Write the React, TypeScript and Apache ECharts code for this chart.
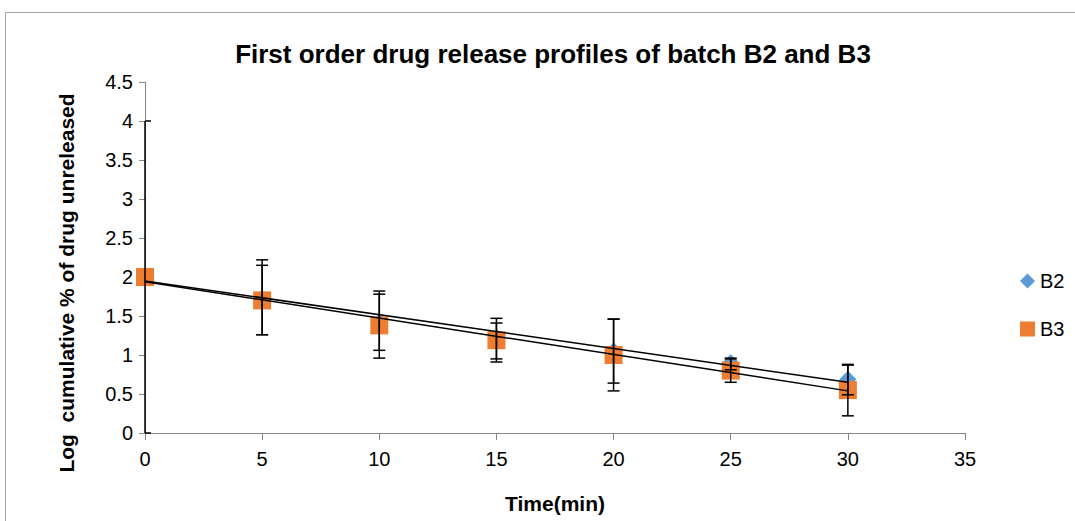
import React, { useEffect, useRef } from "react";
import * as echarts from "echarts";

const timeValues = [0, 5, 10, 15, 20, 25, 30];
const b2Values = [2.0, 1.72, 1.42, 1.22, 1.05, 0.9, 0.69];
const b3Values = [2.0, 1.7, 1.38, 1.19, 1.0, 0.8, 0.55];
const b2ErrLow = [0, 1.26, 1.06, 0.95, 0.64, 0.81, 0.49];
const b2ErrHigh = [4.0, 2.22, 1.82, 1.47, 1.46, 0.95, 0.87];
const b3ErrLow = [2.0, 1.26, 0.96, 0.91, 0.54, 0.65, 0.22];
const b3ErrHigh = [2.0, 2.15, 1.78, 1.41, 1.46, 0.96, 0.88];
const trendX = [0, 30];
const trendB2 = [1.95, 0.65];
const trendB3 = [1.94, 0.54];
const yTicks = ["0", "0.5", "1", "1.5", "2", "2.5", "3", "3.5", "4", "4.5"];
const yAxisTitle = "Log  cumulative % of drug unreleased";

const FONT = "'Liberation Sans', Arial, sans-serif";

function errorSeries(low: number[], high: number[]) {
  const data = timeValues.map((t, i) => [t, low[i], high[i]]);
  return {
    type: "custom",
    z: 5,
    silent: true,
    clip: false,
    data,
    encode: { x: 0, y: [1, 2] },
    renderItem: (params: any, api: any) => {
      const x = api.value(0);
      const lo = api.value(1);
      const hi = api.value(2);
      if (lo === hi) return null;
      const p1 = api.coord([x, lo]);
      const p2 = api.coord([x, hi]);
      const w = 6;
      const left = params.coordSys.x;
      const style = { stroke: "#000", lineWidth: 1.5 };
      const cl = Math.max(left, p1[0] - w);
      return {
        type: "group",
        children: [
          { type: "line", shape: { x1: p1[0], y1: p1[1], x2: p2[0], y2: p2[1] }, style },
          { type: "line", shape: { x1: cl, y1: p1[1], x2: p1[0] + w, y2: p1[1] }, style },
          { type: "line", shape: { x1: cl, y1: p2[1], x2: p2[0] + w, y2: p2[1] }, style },
        ],
      };
    },
  };
}

export default function App() {
  const ref = useRef<HTMLDivElement>(null);
  useEffect(() => {
    if (!ref.current) return;
    const chart = echarts.init(ref.current, null, { renderer: "svg" });
    chart.setOption({
      animation: false,
      backgroundColor: "#fff",
      title: {
        text: "First order drug release profiles of batch B2 and B3",
        left: 548,
        textAlign: "center",
        top: 36,
        textStyle: { fontFamily: FONT, fontSize: 26, fontWeight: "bold", color: "#000" },
      },
      graphic: [
        {
          type: "rect",
          shape: { x: 5.5, y: 12.5, width: 1100, height: 600 },
          style: { fill: "none", stroke: "#a6a6a6", lineWidth: 1 },
          z: -1,
        },
        {
          type: "text",
          x: 66,
          y: 283,
          rotation: Math.PI / 2,
          style: {
            text: yAxisTitle,
            fontFamily: FONT,
            fontSize: 21,
            fontWeight: "bold",
            fill: "#000",
            align: "center",
            verticalAlign: "middle",
          },
        },
      ],
      legend: {
        orient: "vertical",
        left: 1015,
        top: 266,
        itemWidth: 15,
        itemHeight: 15,
        itemGap: 28,
        textStyle: { fontFamily: FONT, fontSize: 20, color: "#000" },
        data: [
          { name: "B2", icon: "diamond" },
          { name: "B3", icon: "rect" },
        ],
      },
      grid: { left: 145, right: 110, top: 82, bottom: 88 },
      xAxis: {
        type: "value",
        min: 0,
        max: 35,
        interval: 5,
        name: "Time(min)",
        nameLocation: "middle",
        nameGap: 60,
        nameTextStyle: { fontFamily: FONT, fontSize: 21, fontWeight: "bold", color: "#000" },
        axisLine: { lineStyle: { color: "#868686", width: 1 } },
        axisTick: { show: true, length: 7, lineStyle: { color: "#868686" } },
        axisLabel: { fontFamily: FONT, fontSize: 20, color: "#000", margin: 16 },
        splitLine: { show: false },
      },
      yAxis: {
        type: "value",
        min: 0,
        max: 4.5,
        interval: 0.5,
        axisLine: { show: true, lineStyle: { color: "#868686", width: 1 } },
        axisTick: { show: true, length: 6, lineStyle: { color: "#868686" } },
        axisLabel: {
          fontFamily: FONT,
          fontSize: 20,
          color: "#000",
          margin: 12,
          formatter: (v: number) => yTicks[Math.round(v / 0.5)] ?? String(v),
        },
        splitLine: { show: false },
      },
      series: [
        {
          name: "B2",
          type: "scatter",
          symbol: "diamond",
          symbolSize: 17,
          itemStyle: { color: "#5b9bd5", opacity: 1 },
          z: 2,
          data: timeValues.map((t, i) => [t, b2Values[i]]),
        },
        {
          name: "B3",
          type: "scatter",
          symbol: "rect",
          symbolSize: 18,
          itemStyle: { color: "#ed7d31", opacity: 1 },
          z: 3,
          data: timeValues.map((t, i) => [t, b3Values[i]]),
        },
        {
          type: "line",
          name: "trendB2",
          showSymbol: false,
          symbol: "none",
          z: 4,
          silent: true,
          lineStyle: { color: "#000", width: 1.5 },
          data: trendX.map((t, i) => [t, trendB2[i]]),
        },
        {
          type: "line",
          name: "trendB3",
          showSymbol: false,
          symbol: "none",
          z: 4,
          silent: true,
          lineStyle: { color: "#000", width: 1.5 },
          data: trendX.map((t, i) => [t, trendB3[i]]),
        },
        errorSeries(b2ErrLow, b2ErrHigh),
        errorSeries(b3ErrLow, b3ErrHigh),
      ],
    });
    return () => chart.dispose();
  }, []);
  return (
    <div
      ref={ref}
      style={{ position: "fixed", left: 0, top: 0, width: 1075, height: 521 }}
    />
  );
}
